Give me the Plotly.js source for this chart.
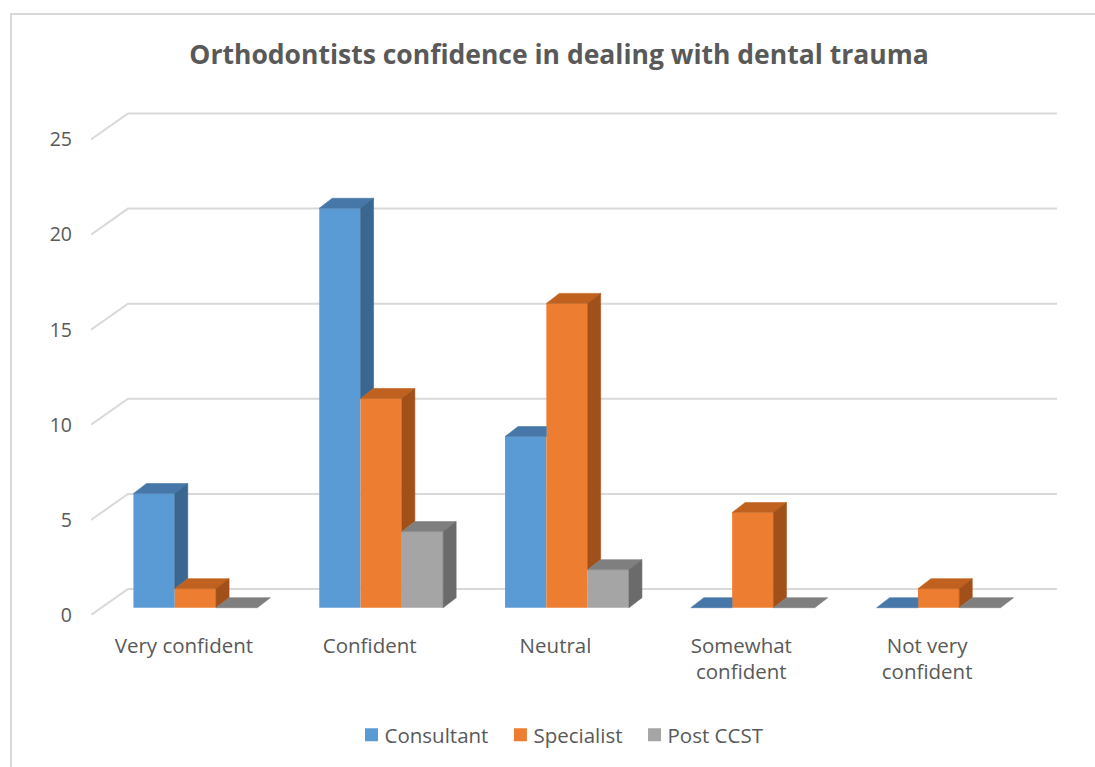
<!DOCTYPE html>
<html>
<head>
<meta charset="utf-8">
<script src="https://cdn.plot.ly/plotly-3.0.1.min.js"></script>
<style>
  html, body { margin: 0; padding: 0; background: #ffffff; }
  #wrap { position: relative; width: 1095px; height: 767px; overflow: hidden; }
  #chart { position: absolute; left: 0; top: 0; width: 1095px; height: 767px; }
  #frame { position: absolute; left: 10px; top: 13px; width: 1200px; height: 900px;
           border-left: 2px solid #d9d9d9; border-top: 2px solid #d9d9d9; pointer-events: none; }
</style>
</head>
<body>
<div id="wrap">
  <div id="chart"></div>
  <div id="frame"></div>
</div>
<script>
// Survey responses per confidence level
const categories = ['Very confident', 'Confident', 'Neutral', 'Somewhat confident', 'Not very confident'];
const tickLabels = ['Very confident', 'Confident', 'Neutral', 'Somewhat<br>confident', 'Not very<br>confident'];
const consultant = [6, 21, 9, 0, 0];
const specialist = [1, 11, 16, 5, 1];
const postCCST   = [0, 4, 2, 0, 0];
const yTicks = [0, 5, 10, 15, 20, 25];

const seriesNames = ['Consultant', 'Specialist', 'Post CCST'];
const seriesValues = [consultant, specialist, postCCST];

// face colours: front, top, side
const palette = [
  { front: '#5b9bd5', top: '#4677a8', side: '#3a668f' },
  { front: '#ed7d31', top: '#c0611f', side: '#a1501a' },
  { front: '#a5a5a5', top: '#7f7f7f', side: '#6b6b6b' }
];

// pixel geometry of the pseudo-3D projection, converted to axis units
const PX_PER_CAT = 185.8;
const PX_PER_VAL = 19.02;
const ux = px => px / PX_PER_CAT;
const uy = px => px / PX_PER_VAL;
const wallDX = ux(37), wallDY = uy(26);       // front edge -> back wall
const barShiftX = ux(11.5), barBase = uy(7.3); // bar plane inside the floor
const barW = ux(41.3);
const depthX = ux(13), depthY = uy(10);      // bar thickness

const idx = categories.map((_, i) => i);
const xMax = categories.length - 0.5 + wallDX;
const yMax = uy(615 - 100);

const traces = [];

// front faces (also give the legend entries)
seriesValues.forEach((vals, k) => {
  traces.push({
    type: 'bar',
    name: seriesNames[k],
    x: idx.map(i => i + barShiftX + (k - 1) * barW),
    y: vals,
    base: barBase,
    width: barW,
    marker: { color: palette[k].front, line: { width: 0 } },
    hoverinfo: 'skip'
  });
});

// top and side faces, trimmed where the next column hides them
function poly(pts, color) {
  traces.push({
    type: 'scatter', mode: 'lines', fill: 'toself',
    x: pts.map(p => p[0]).concat([pts[0][0]]),
    y: pts.map(p => p[1]).concat([pts[0][1]]),
    fillcolor: color, line: { color: color, width: 0.6 },
    showlegend: false, hoverinfo: 'skip'
  });
}

idx.forEach(i => {
  seriesValues.forEach((vals, k) => {
    const v = vals[i];
    const xl = i + barShiftX + (k - 1.5) * barW;
    const xr = xl + barW;
    const b = barBase;
    const t = b + v;
    const hasNext = k < seriesValues.length - 1;
    const tn = hasNext ? b + seriesValues[k + 1][i] : -Infinity;

    // top face
    if (tn <= t) {
      poly([[xl, t], [xr, t], [xr + depthX, t + depthY], [xl + depthX, t + depthY]], palette[k].top);
    } else {
      const h = Math.min(tn, t + depthY);
      const xc = xr + (t + depthY - h) / depthY * depthX;
      poly([[xl, t], [xr, t], [xr, h], [xc, t + depthY], [xl + depthX, t + depthY]], palette[k].top);
    }

    // side face
    const lower = hasNext ? Math.max(b, tn) : b;
    if (v > 0 && lower < t) {
      poly([[xr, lower], [xr, t], [xr + depthX, t + depthY], [xr + depthX, lower + depthY]], palette[k].side);
    }
  });
});

// back-wall gridlines with their left-wall diagonals
const shapes = yTicks.map(v => ({
  type: 'path',
  xref: 'x', yref: 'y',
  path: 'M ' + (-0.5) + ',' + v +
        ' L ' + (-0.5 + wallDX) + ',' + (v + wallDY) +
        ' L ' + (categories.length - 0.5 + wallDX) + ',' + (v + wallDY),
  line: { color: '#d9d9d9', width: 2 },
  layer: 'below'
}));

const font = 'Open Sans, Liberation Sans, sans-serif';

const layout = {
  width: 1095, height: 767,
  margin: { l: 91, r: 1095 - 1057, t: 100, b: 767 - 615, pad: 0 },
  paper_bgcolor: 'rgba(0,0,0,0)', plot_bgcolor: 'rgba(0,0,0,0)',
  barmode: 'overlay',
  showlegend: true,
  title: {
    text: '<b>Orthodontists confidence in dealing with dental trauma</b>',
    font: { family: font, size: 26.5, color: '#595959' },
    x: 559 / 1095, xanchor: 'center', xref: 'container',
    y: 1 - 55 / 767, yanchor: 'middle', yref: 'container'
  },
  xaxis: {
    range: [-0.5, xMax],
    tickmode: 'array', tickvals: idx, ticktext: tickLabels,
    showgrid: false, zeroline: false, showline: false, ticks: '',
    ticklabelstandoff: 16,
    tickfont: { family: font, size: 20.5, color: '#595959' },
    fixedrange: true
  },
  yaxis: {
    range: [0, yMax],
    tickmode: 'array', tickvals: yTicks,
    showgrid: false, zeroline: false, showline: false, ticks: '',
    ticklabelstandoff: 18,
    tickfont: { family: font, size: 19.5, color: '#595959' },
    fixedrange: true
  },
  legend: {
    orientation: 'h',
    x: (557 - 91) / 966, xanchor: 'center',
    y: -(735 - 615) / 515, yanchor: 'middle',
    font: { family: font, size: 20.5, color: '#595959' },
    itemwidth: 30,
    traceorder: 'normal'
  },
  shapes: shapes
};

Plotly.newPlot('chart', traces, layout, { displayModeBar: false, staticPlot: true }).then(gd => {
  // tighten the gap between each legend swatch and its label
  gd.querySelectorAll('.legend .legendpoints path').forEach(p => {
    p.setAttribute('transform', 'translate(27,0)');
    p.setAttribute('d', 'M6.5,6.5H-6.5V-6.5H6.5Z');
  });
});
</script>
</body>
</html>
